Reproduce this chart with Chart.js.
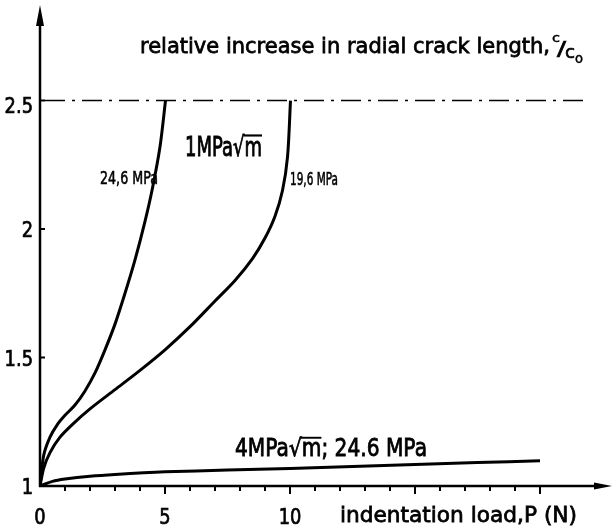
<!DOCTYPE html>
<html lang="en">
<head>
<meta charset="UTF-8" />
<title>Relative increase in radial crack length</title>
<script src="https://cdn.jsdelivr.net/npm/chart.js"></script>
<style>
  body { margin: 0; background: #fff; }
  #wrap { width: 615px; height: 529px; }
</style>
</head>
<body>
<div id="wrap"><canvas id="chart"></canvas></div>
<script>
  // 1 MPa√m, 24.6 MPa (left curve)
  const loadA  = [0, 0.15, 0.4, 0.7, 1.0, 1.4, 1.8, 2.2, 2.6, 3.0, 3.4, 3.8, 4.2, 4.5, 4.8, 5.02];
  const ratioA = [1, 1.12, 1.19, 1.24, 1.275, 1.315, 1.37, 1.44, 1.53, 1.63, 1.75, 1.88, 2.03, 2.16, 2.32, 2.5];
  // 1 MPa√m, 19.6 MPa
  const loadB  = [0, 0.15, 0.4, 0.8, 1.3, 2.0, 3.0, 4.0, 5.0, 6.0, 7.0, 7.8, 8.5, 9.0, 9.4, 9.7, 9.9, 10.02];
  const ratioB = [1, 1.07, 1.13, 1.19, 1.24, 1.30, 1.375, 1.45, 1.53, 1.62, 1.72, 1.80, 1.885, 1.965, 2.05, 2.15, 2.28, 2.5];
  // 4 MPa√m, 24.6 MPa
  const loadC  = [0, 0.5, 1, 2, 3, 5, 7.5, 10, 12.5, 15, 17.5, 20];
  const ratioC = [1, 1.018, 1.027, 1.038, 1.045, 1.055, 1.062, 1.068, 1.076, 1.084, 1.091, 1.098];
  // limit line c/c0 = 2.5
  const limitLoad  = [0.2, 22];
  const limitRatio = [2.5, 2.5];

  const xTicks = [0, 5, 10];
  const yTicks = [1, 1.5, 2, 2.5];

  const pts = (xs, ys) => xs.map((x, i) => ({ x: x, y: ys[i] }));
  const curve = (xs, ys) => ({
    data: pts(xs, ys), borderColor: '#000', borderWidth: 3, pointRadius: 0,
    tension: 0.3, fill: false
  });

  function label(ctx, txt, x, y, size, w) {
    ctx.save();
    ctx.font = size + 'px "DejaVu Sans"';
    const sx = w ? w / ctx.measureText(txt).width : 1;
    ctx.translate(x, y);
    ctx.scale(sx, 1);
    ctx.textAlign = 'left';
    ctx.textBaseline = 'alphabetic';
    ctx.lineWidth = size * 0.035;
    ctx.fillText(txt, 0, 0);
    ctx.strokeText(txt, 0, 0);
    const r = txt.indexOf('√');
    if (r >= 0) {
      const a = ctx.measureText(txt.slice(0, r + 1)).width;
      const b = ctx.measureText(txt.slice(0, r + 2)).width;
      ctx.lineWidth = size * 0.08;
      ctx.beginPath();
      ctx.moveTo(a - 1, -size * 0.76);
      ctx.lineTo(b, -size * 0.76);
      ctx.stroke();
    }
    ctx.restore();
  }

  const axesPlugin = {
    id: 'axes',
    afterDraw(chart) {
      const ctx = chart.ctx;
      const xs = chart.scales.x, ys = chart.scales.y;
      const x0 = xs.getPixelForValue(0), y0 = ys.getPixelForValue(1);
      ctx.save();
      ctx.strokeStyle = '#000';
      ctx.fillStyle = '#000';
      ctx.lineWidth = 2.5;
      ctx.beginPath();
      ctx.moveTo(x0, y0 + 1); ctx.lineTo(x0, 20);
      ctx.moveTo(x0 - 1, y0); ctx.lineTo(598, y0);
      ctx.stroke();
      // arrow heads
      ctx.beginPath();
      ctx.moveTo(x0, 5); ctx.lineTo(x0 - 4, 26); ctx.lineTo(x0 + 4, 26); ctx.closePath();
      ctx.moveTo(612, y0); ctx.lineTo(594, y0 - 3.5); ctx.lineTo(594, y0 + 3.5); ctx.closePath();
      ctx.fill();
      // x ticks, every 1 N, longer every 5
      ctx.lineWidth = 2;
      ctx.beginPath();
      for (let v = 1; v <= 20; v++) {
        const px = xs.getPixelForValue(v);
        ctx.moveTo(px, y0); ctx.lineTo(px, y0 + (v % 5 === 0 ? 8 : 5));
      }
      // y ticks, pointing into the plot
      yTicks.slice(1).forEach(v => {
        const py = ys.getPixelForValue(v);
        ctx.moveTo(x0, py); ctx.lineTo(x0 + 5, py);
      });
      ctx.stroke();

      // tick labels
      xTicks.forEach(v => {
        const t = String(v);
        ctx.font = '21px "DejaVu Sans"';
        const w = ctx.measureText(t).width * 0.85;
        label(ctx, t, xs.getPixelForValue(v) - w / 2, 524, 21, w);
      });
      yTicks.forEach(v => {
        const t = v === 1 || v === 2 ? String(v) : v.toFixed(1);
        ctx.font = '21px "DejaVu Sans"';
        const w = ctx.measureText(t).width * 0.85;
        label(ctx, t, 33 - w, ys.getPixelForValue(v) + (v === 2.5 ? 12 : 8), 21, w);
      });

      // annotations
      label(ctx, 'relative increase in radial crack length,', 140, 53, 22, 410);
      label(ctx, 'c', 552, 42, 13, 8);
      label(ctx, '/', 557, 55, 20, 9);
      label(ctx, 'c', 565, 58, 18, 10);
      label(ctx, 'o', 575, 63, 14, 8);
      label(ctx, '1MPa√m', 185, 156, 27, 77);
      label(ctx, '24,6 MPa', 100, 184, 17, 58);
      label(ctx, '19,6 MPa', 290, 185, 17, 48);
      label(ctx, '4MPa√m; 24.6 MPa', 235, 456, 24, 192);
      label(ctx, 'indentation load,P (N)', 340, 522, 22, 237);
      ctx.restore();
    }
  };

  new Chart(document.getElementById('chart'), {
    type: 'scatter',
    data: {
      datasets: [
        curve(loadA, ratioA),
        curve(loadB, ratioB),
        curve(loadC, ratioC),
        {
          data: pts(limitLoad, limitRatio), borderColor: '#000', borderWidth: 1.5,
          borderDash: [20, 7, 3, 7], pointRadius: 0, fill: false, tension: 0
        }
      ]
    },
    options: {
      responsive: true,
      maintainAspectRatio: false,
      animation: false,
      showLine: true,
      layout: { padding: { left: 40, right: 0, top: 5, bottom: 43 } },
      plugins: { legend: { display: false }, tooltip: { enabled: false } },
      scales: {
        x: { type: 'linear', min: 0, max: 23, display: false },
        y: { type: 'linear', min: 1, max: 2.872, display: false }
      }
    },
    plugins: [axesPlugin]
  });
</script>
</body>
</html>
